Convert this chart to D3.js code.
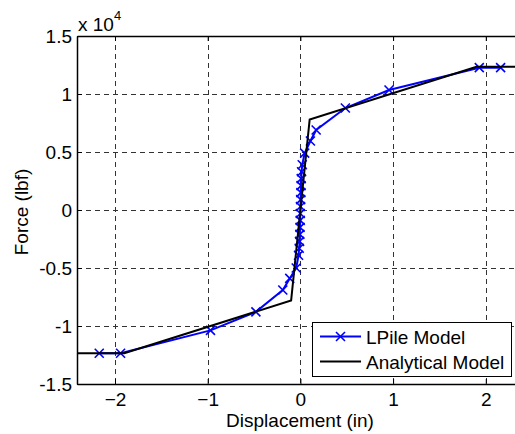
<!DOCTYPE html>
<html>
<head>
<meta charset="utf-8">
<script src="https://cdn.jsdelivr.net/npm/d3@7"></script>
<style>
  html, body { margin: 0; padding: 0; background: #fff; }
  text { font-family: "Liberation Sans", Arial, Helvetica, sans-serif; fill: #000; }
</style>
</head>
<body>
<svg id="chart" width="515" height="434"></svg>
<script>
// LPile model: pile-head displacement (in) vs force (lbf)
const lpileDisp = [-2.17, -1.94, -0.97, -0.48, -0.19, -0.115, -0.045, -0.02, -0.013, -0.009, -0.006, -0.004, -0.002, -0.001,
                   0.001, 0.003, 0.005, 0.007, 0.009, 0.013, 0.02, 0.046, 0.108, 0.17, 0.485, 0.956, 1.93, 2.16];
const lpileForce = [-12350, -12350, -10380, -8780, -6900, -5900, -5000, -3900, -3300, -2700, -2100, -1500, -900, -300,
                    300, 900, 1500, 2100, 2700, 3300, 3900, 4900, 5950, 6900, 8790, 10340, 12270, 12270];

// Analytical (multi-linear) model
const analyticDisp = [-2.41, -1.9, -0.1, 0.1, 1.9, 2.41];
const analyticForce = [-12350, -12350, -7800, 7800, 12350, 12350];

const xTicks = [-2, -1, 0, 1, 2];
const yTicks = [-15000, -10000, -5000, 0, 5000, 10000, 15000];
const yTickLabels = ["-1.5", "-1", "-0.5", "0", "0.5", "1", "1.5"];

const legendLabels = ["LPile Model", "Analytical Model"];

const FS = 19;
const svg = d3.select("#chart");
const plotL = 77, plotT = 36, plotB = 384, plotR = 523.8;

const x = d3.scaleLinear().domain([-2.41, 2.41]).range([plotL, plotR]);
const y = d3.scaleLinear().domain([-15000, 15000]).range([plotB, plotT]);

// grid
const grid = svg.append("g")
  .attr("stroke", "#333").attr("stroke-width", 1).attr("stroke-dasharray", "5,4");
grid.selectAll("line.v").data(xTicks).join("line").attr("class", "v")
  .attr("x1", d => Math.round(x(d)) + 0.5).attr("x2", d => Math.round(x(d)) + 0.5)
  .attr("y1", plotT).attr("y2", plotB);
grid.selectAll("line.h").data(yTicks).join("line").attr("class", "h")
  .attr("y1", d => Math.round(y(d)) + 0.5).attr("y2", d => Math.round(y(d)) + 0.5)
  .attr("x1", plotL).attr("x2", plotR);

// axes
const xAxis = d3.axisBottom(x).tickValues(xTicks).tickSizeInner(-5).tickSizeOuter(0)
  .tickPadding(8.5).tickFormat(d3.format("d"));
svg.append("g").attr("transform", `translate(0,${plotB})`).call(xAxis);
const xTop = d3.axisTop(x).tickValues(xTicks).tickSizeInner(-5).tickSizeOuter(0).tickFormat("");
svg.append("g").attr("transform", `translate(0,${plotT})`).call(xTop);

const yAxis = d3.axisLeft(y).tickValues(yTicks).tickSizeInner(-5).tickSizeOuter(0)
  .tickPadding(5).tickFormat((d, i) => yTickLabels[i]);
svg.append("g").attr("transform", `translate(${plotL},0)`).call(yAxis);
const yRight = d3.axisRight(y).tickValues(yTicks).tickSizeInner(-5).tickSizeOuter(0).tickFormat("");
svg.append("g").attr("transform", `translate(${plotR},0)`).call(yRight);

svg.selectAll(".domain").attr("stroke", "#000").attr("stroke-width", 1.5);
svg.selectAll(".tick line").attr("stroke", "#000").attr("stroke-width", 1);
svg.selectAll(".tick text").attr("font-size", FS).attr("font-family", "Liberation Sans, Arial, sans-serif");

// exponent label
const expo = svg.append("text").attr("x", 78).attr("y", 31).attr("font-size", FS);
expo.append("tspan").text("x 10");
expo.append("tspan").attr("dy", -11).attr("font-size", 13).text("4");

// axis titles
svg.append("text").attr("x", 300).attr("y", 427).attr("text-anchor", "middle")
  .attr("font-size", FS).text("Displacement (in)");
svg.append("text").attr("transform", "translate(28,212) rotate(-90)").attr("text-anchor", "middle")
  .attr("font-size", FS).text("Force (lbf)");

// data lines
const lpile = lpileDisp.map((d, i) => [d, lpileForce[i]]);
const analytic = analyticDisp.map((d, i) => [d, analyticForce[i]]);
const line = d3.line().x(d => x(d[0])).y(d => y(d[1]));

const plot = svg.append("g");
plot.append("path").datum(lpile).attr("d", line)
  .attr("fill", "none").attr("stroke", "#0000ff").attr("stroke-width", 2);
const ms = 4.5;
plot.selectAll("path.mk").data(lpile).join("path").attr("class", "mk")
  .attr("d", d => {
    const cx = x(d[0]), cy = y(d[1]);
    return `M${cx - ms},${cy - ms}L${cx + ms},${cy + ms}M${cx - ms},${cy + ms}L${cx + ms},${cy - ms}`;
  })
  .attr("stroke", "#0000ff").attr("stroke-width", 1.6).attr("fill", "none");
plot.append("path").datum(analytic).attr("d", line)
  .attr("fill", "none").attr("stroke", "#000").attr("stroke-width", 2);

// legend
const lg = svg.append("g");
lg.append("rect").attr("x", 312.5).attr("y", 322.5).attr("width", 199).attr("height", 54)
  .attr("fill", "#fff").attr("stroke", "#000").attr("stroke-width", 1);
const rows = [336.5, 361.5];
lg.append("line").attr("x1", 320).attr("x2", 361).attr("y1", rows[0]).attr("y2", rows[0])
  .attr("stroke", "#0000ff").attr("stroke-width", 2);
lg.append("path").attr("d", `M${340.5 - ms},${rows[0] - ms}L${340.5 + ms},${rows[0] + ms}M${340.5 - ms},${rows[0] + ms}L${340.5 + ms},${rows[0] - ms}`)
  .attr("stroke", "#0000ff").attr("stroke-width", 1.6);
lg.append("line").attr("x1", 320).attr("x2", 361).attr("y1", rows[1]).attr("y2", rows[1])
  .attr("stroke", "#000").attr("stroke-width", 2);
lg.selectAll("text.lab").data(legendLabels).join("text").attr("class", "lab")
  .attr("x", 366).attr("y", (d, i) => rows[i] + 7).attr("font-size", FS).text(d => d);
</script>
</body>
</html>
